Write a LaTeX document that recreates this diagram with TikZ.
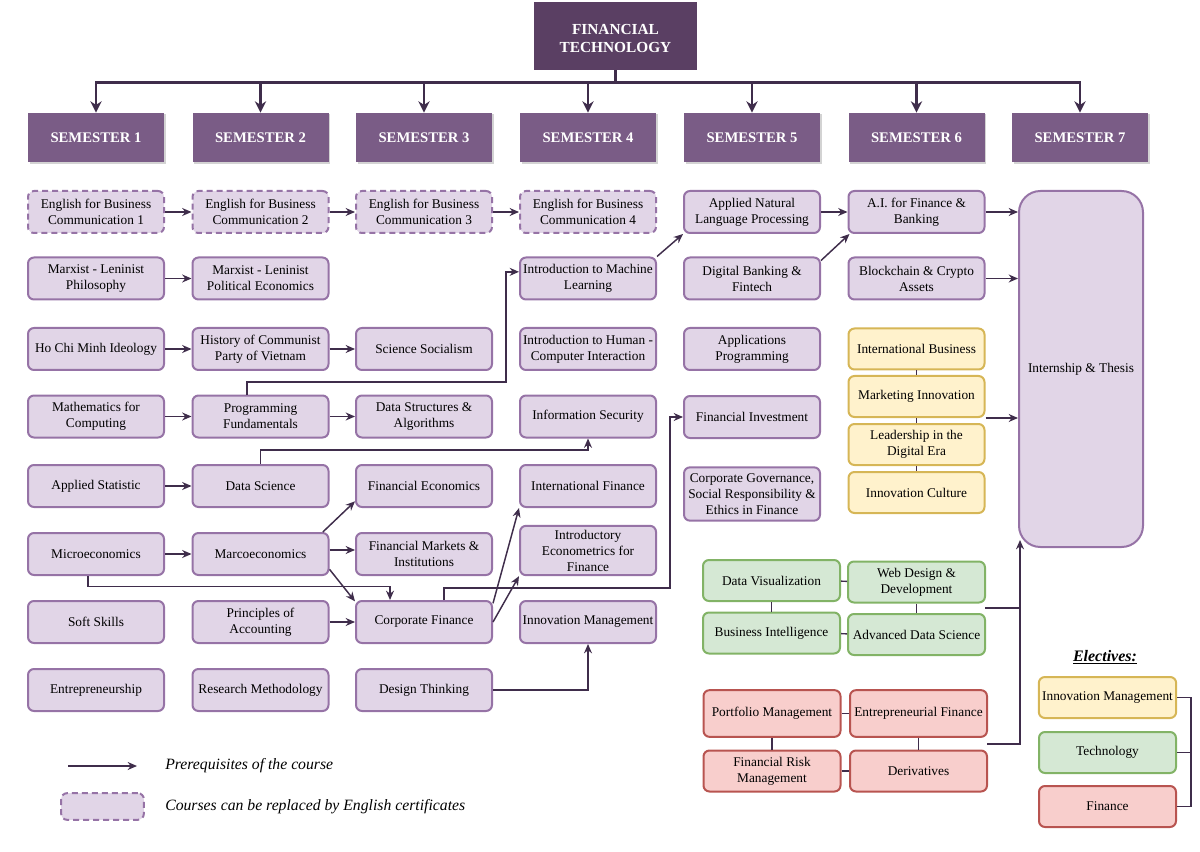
\documentclass[tikz,border=0pt]{standalone}
\usepackage{fontspec}
\setmainfont{Liberation Serif}
\usetikzlibrary{arrows.meta,calc,shadows}
\definecolor{titlec}{HTML}{5A3F63}
\definecolor{semc}{HTML}{7A5C86}
\definecolor{cfill}{HTML}{E1D5E7}
\definecolor{cdraw}{HTML}{9673A6}
\definecolor{arr}{HTML}{3F2D4B}
\definecolor{yfill}{HTML}{FFF2CC}
\definecolor{ydraw}{HTML}{D6B656}
\definecolor{gfill}{HTML}{D5E8D4}
\definecolor{gdraw}{HTML}{82B366}
\definecolor{rfill}{HTML}{F8CECC}
\definecolor{rdraw}{HTML}{B85450}
\tikzset{
  course/.style={draw=cdraw, fill=cfill, line width=1.5pt, rounded corners=4.5pt,
    minimum width=102pt, minimum height=31.5pt, align=center, inner sep=0.5pt,
    font=\fontsize{10}{12}\selectfont},
  dashcourse/.style={course, dash pattern=on 4.5pt off 3pt},
  ybox/.style={course, draw=ydraw, fill=yfill, minimum height=30.75pt},
  gbox/.style={course, draw=gdraw, fill=gfill, minimum width=102.75pt, minimum height=30.75pt},
  rbox/.style={course, draw=rdraw, fill=rfill, minimum width=102.75pt, minimum height=30.75pt},
  sem/.style={fill=semc, minimum width=102pt, minimum height=37pt, text=white,
    font=\bfseries\fontsize{11}{13}\selectfont,
    drop shadow={shadow xshift=1.2pt, shadow yshift=-1.2pt, opacity=0.35}},
  pre/.style={draw=arr, line width=1.1pt, -{Stealth[length=7pt,width=6pt]}},
  link/.style={draw=arr, line width=1.1pt},
  busline/.style={draw=arr, line width=2.2pt},
  busarr/.style={draw=arr, line width=2.2pt, -{Stealth[length=8.5pt,width=8.5pt]}},
  legtext/.style={anchor=west, inner sep=0pt, font=\itshape\fontsize{11.8}{14}\selectfont}
}
\begin{document}
\begin{tikzpicture}[x=0.75pt,y=-0.75pt]
\useasboundingbox (0,0) rectangle (1200,852);

% title and semesters
\node[fill=titlec, minimum width=122pt, minimum height=51pt, text=white, inner sep=0pt,
  font=\bfseries\fontsize{11.5}{13.5}\selectfont] (title) at (615.5,36)
  {\raisebox{-3pt}[\height][\depth]{\begin{tabular}{@{}c@{}}FINANCIAL\\TECHNOLOGY\end{tabular}}};
\node[sem] (s1) at (96,137.5) {SEMESTER 1};
\node[sem] (s2) at (260.5,137.5) {SEMESTER 2};
\node[sem] (s3) at (424,137.5) {SEMESTER 3};
\node[sem] (s4) at (588,137.5) {SEMESTER 4};
\node[sem] (s5) at (752,137.5) {SEMESTER 5};
\node[sem] (s6) at (916.5,137.5) {SEMESTER 6};
\node[sem] (s7) at (1080,137.5) {SEMESTER 7};
\draw[busline] (title.south) -- ++(0,12) coordinate (busc);
\draw[busarr] (busc) -| (s1.north);
\draw[busarr] (busc) -| (s7.north);
\foreach \s in {s2,s3,s4,s5,s6} \draw[busarr] (\s.north |- busc) -- (\s.north);

% column 1
\node[dashcourse] (ebc1) at (96,212) {English for Business\\Communication 1};
\node[course] (mlp) at (96,278.5) {Marxist - Leninist\\Philosophy};
\node[course] (hcm) at (96,349) {Ho Chi Minh Ideology};
\node[course] (math) at (96,416.5) {Mathematics for\\Computing};
\node[course] (astat) at (96,486) {Applied Statistic};
\node[course] (micro) at (96,554) {Microeconomics};
\node[course] (soft) at (96,622) {Soft Skills};
\node[course] (entre) at (96,690) {Entrepreneurship};
% column 2
\node[dashcourse] (ebc2) at (260.5,212) {English for Business\\Communication 2};
\node[course] (mlpe) at (260.5,278.5) {Marxist - Leninist\\Political Economics};
\node[course] (hist) at (260.5,349) {History of Communist\\Party of Vietnam};
\node[course] (prog) at (260.5,416.5) {Programming\\Fundamentals};
\node[course] (ds) at (260.5,486) {Data Science};
\node[course] (macro) at (260.5,554) {Marcoeconomics};
\node[course] (poa) at (260.5,622) {Principles of\\Accounting};
\node[course] (rm) at (260.5,690) {Research Methodology};
% column 3
\node[dashcourse] (ebc3) at (424,212) {English for Business\\Communication 3};
\node[course] (ss) at (424,349) {Science Socialism};
\node[course] (dsa) at (424,416.5) {Data Structures \&\\Algorithms};
\node[course] (fe) at (424,486) {Financial Economics};
\node[course] (fmi) at (424,554) {Financial Markets \&\\Institutions};
\node[course] (cf) at (424,622) {Corporate Finance};
\node[course] (dt) at (424,690) {Design Thinking};
% column 4
\node[dashcourse] (ebc4) at (588,212) {English for Business\\Communication 4};
\node[course] (iml) at (588,278.5) {Introduction to Machine\\Learning};
\node[course] (hci) at (588,349) {Introduction to Human -\\Computer Interaction};
\node[course] (isec) at (588,416.5) {Information Security};
\node[course] (ifin) at (588,486) {International Finance};
\node[course, minimum height=37pt] (econ) at (588,550.5) {Introductory\\Econometrics for\\Finance};
\node[course] (im) at (588,622) {Innovation Management};
% column 5
\node[course] (nlp) at (752,212) {Applied Natural\\Language Processing};
\node[course] (dbf) at (752,278.5) {Digital Banking \&\\Fintech};
\node[course] (ap) at (752,349) {Applications\\Programming};
\node[course] (fi) at (752,417) {Financial Investment};
\node[course, minimum height=40pt] (cg) at (752,494) {Corporate Governance,\\Social Responsibility \&\\Ethics in Finance};
% column 6
\node[course] (ai) at (916.5,212) {A.I. for Finance \&\\Banking};
\node[course] (bca) at (916.5,278.5) {Blockchain \& Crypto\\Assets};
\node[ybox] (ib) at (916.5,349) {International Business};
\node[ybox] (mi) at (916.5,396.5) {Marketing Innovation};
\node[ybox] (lde) at (916.5,444.5) {Leadership in the\\Digital Era};
\node[ybox] (ic) at (916.5,492.5) {Innovation Culture};
% semester 7
\node[course, rounded corners=16pt, minimum width=93pt, minimum height=267pt] (intern) at (1081,369) {Internship \& Thesis};

% green group
\node[gbox] (dv) at (771.5,580.5) {Data Visualization};
\node[gbox] (wdd) at (916.5,582) {Web Design \&\\Development};
\node[gbox] (bi) at (771.5,633) {Business Intelligence};
\node[gbox] (ads) at (916.5,634.5) {Advanced Data Science};
% red group
\node[rbox, minimum height=35pt] (pm) at (772,713.5) {Portfolio Management};
\node[rbox, minimum height=35pt] (ef) at (918.5,713.5) {Entrepreneurial Finance};
\node[rbox] (frm) at (772,771) {Financial Risk\\Management};
\node[rbox] (der) at (918.5,771) {Derivatives};

% electives
\node[font=\bfseries\itshape\fontsize{12}{14}\selectfont] (elab) at (1105,657) {\underline{Electives:}};
\node[ybox, minimum width=103pt] (eim) at (1107.5,697.5) {Innovation Management};
\node[gbox] (etech) at (1107.5,752.5) {Technology};
\node[rbox] (efin) at (1107.5,806.5) {Finance};

% legend
\coordinate (la1) at (68,766);
\coordinate (la2) at (137,766);
\draw[pre] (la1) -- (la2);
\node[legtext] (lt1) at (165,766) {Prerequisites of the course};
\node[dashcourse, minimum width=62pt, minimum height=20pt] (lbox) at (102.5,806.5) {};
\node[legtext] (lt2) at (165,807) {Courses can be replaced by English certificates};

% prerequisite arrows
\draw[pre] (ebc1) -- (ebc2);
\draw[pre] (ebc2) -- (ebc3);
\draw[pre] (ebc3) -- (ebc4);
\draw[pre] (mlp) -- (mlpe);
\draw[pre] (hcm) -- (hist);
\draw[pre] (hist) -- (ss);
\draw[pre] (math) -- (prog);
\draw[pre] (prog) -- (dsa);
\draw[pre] ([xshift=-10pt]prog.north) |- (506,382) |- ([yshift=5pt]iml.west);
\draw[pre] (iml.north east) -- (nlp.south west);
\draw[pre] (nlp) -- (ai);
\draw[pre] ([yshift=-3pt]dbf.north east) -- ([xshift=1.5pt]ai.south west);
\draw[pre] (ai.east) -- (ai.east -| intern.west);
\draw[pre] (bca.east) -- (bca.east -| intern.west);
\draw[pre] (mi.south east) -- (mi.south east -| intern.west);
\draw[pre] (astat) -- (ds);
\draw[pre] (ds.north) -- ++(0,-14) -| (isec.south);
\draw[pre] (micro) -- (macro);
\draw[pre] ([xshift=-5pt]macro.north east) -- ([yshift=5pt]fe.south west);
\draw[pre] ([yshift=3pt]macro.east) -- ([yshift=3pt]fmi.west);
\draw[pre] ([yshift=5pt]macro.south east) -- ([yshift=-1pt]cf.north west);
\draw[pre] ([xshift=-6pt]micro.south) |- ([xshift=-25.5pt,yshift=10pt]cf.north) -- ([xshift=-25.5pt]cf.north);
\draw[pre] (poa) -- (cf);
\draw[pre] ([yshift=14pt]cf.east) -- (ifin.south west);
\draw[pre] (cf.east) -- (econ.south west);
\draw[pre] ([xshift=15pt]cf.north) |- (670,588) |- (fi.west);
\draw[pre] (dt.east) -| (im.south);

% group links
\draw[link] (ib) -- (mi);
\draw[link] (mi) -- (lde);
\draw[link] (lde) -- (ic);
\draw[link] (dv) -- (wdd);
\draw[link] (dv) -- (bi);
\draw[link] (wdd) -- (ads);
\draw[link] (bi) -- (ads);
\draw[link] (pm) -- (ef);
\draw[link] (pm) -- (frm);
\draw[link] (ef) -- (der);
\draw[link] (frm) -- (der);
\coordinate (gj) at (985,608);
\coordinate (rj) at (987,744);
\coordinate (vtip) at ([xshift=1.5pt,yshift=6pt]intern.south west);
\draw[pre] (rj) -| (vtip);
\draw[link] (gj) -- (gj -| vtip);
\draw[link] (eim.east) -- ++(14,0) |- (efin.east);
\draw[link] (etech.east) -- ++(14,0);
\end{tikzpicture}
\end{document}
